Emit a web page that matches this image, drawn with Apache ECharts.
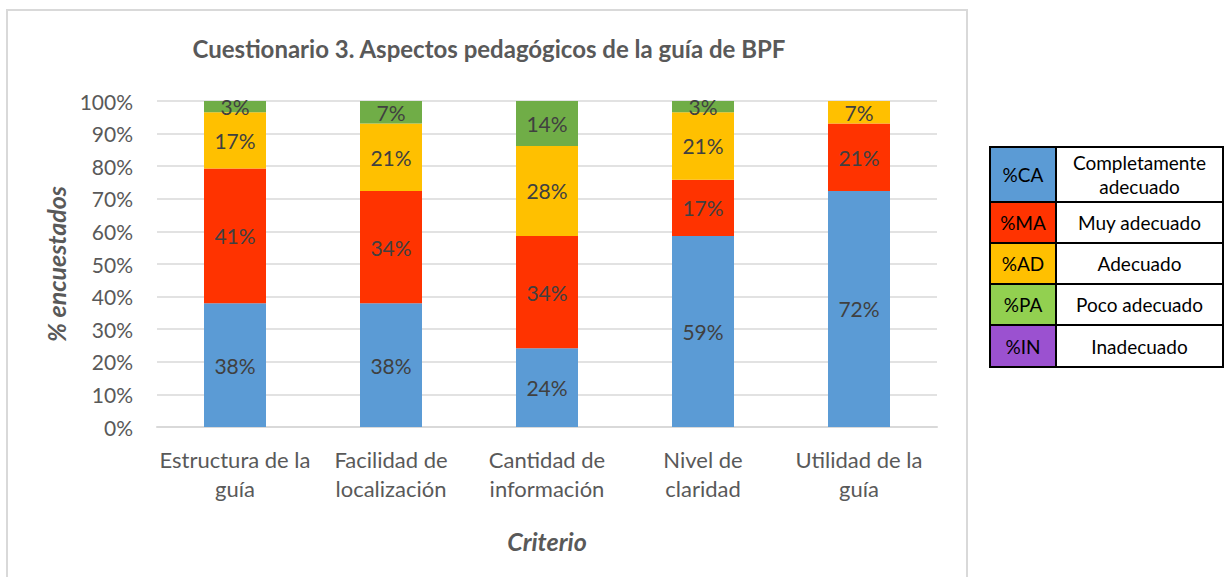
<!DOCTYPE html>
<html><head><meta charset="utf-8">
<script src="https://cdn.jsdelivr.net/npm/echarts@6/dist/echarts.min.js"></script>
<style>html,body{margin:0;padding:0;background:#fff}#c{width:1225px;height:577px}</style>
</head><body><div id="c"></div>
<script>
const categories = ["Estructura de la\nguía", "Facilidad de\nlocalización", "Cantidad de\ninformación", "Nivel de\nclaridad", "Utilidad de la\nguía"];
const seriesCodes = ["%CA", "%MA", "%AD", "%PA", "%IN"];
const seriesNames = ["Completamente\nadecuado", "Muy adecuado", "Adecuado", "Poco adecuado", "Inadecuado"];
const valuesCA = [37.93, 37.93, 24.14, 58.62, 72.41];
const valuesMA = [41.38, 34.48, 34.48, 17.24, 20.69];
const valuesAD = [17.24, 20.69, 27.59, 20.69, 6.90];
const valuesPA = [3.45, 6.90, 13.79, 3.45, 0];
const valuesIN = [0, 0, 0, 0, 0];
const yTicks = [0, 10, 20, 30, 40, 50, 60, 70, 80, 90, 100];

const barColors = ["#5B9BD5", "#FF3300", "#FFC000", "#70AD47", "#9B51D0"];
const legendColors = ["#5B9BD5", "#FF3300", "#FFC000", "#92D050", "#9B51D0"];
const FONT = "Lato, 'Open Sans', sans-serif";
const allValues = [valuesCA, valuesMA, valuesAD, valuesPA, valuesIN];

const chart = echarts.init(document.getElementById('c'), null, {renderer: 'svg'});

const series = allValues.map((vals, i) => ({
  name: seriesCodes[i],
  type: 'bar',
  stack: 'total',
  data: vals,
  barWidth: 62,
  itemStyle: {color: barColors[i]},
  label: {
    show: true, position: 'inside', color: '#404040', fontSize: 21, fontFamily: FONT,
    formatter: p => p.value > 0 ? Math.round(p.value) + '%' : ''
  }
}));

// legend table
const rowTops = [147, 202, 243, 284, 325, 367];
const tableLeft = 990, colSplit = 1056, tableRight = 1223;
const graphics = [
  {type: 'rect', shape: {x: 7, y: 10, width: 960, height: 600}, style: {fill: 'none', stroke: '#D9D9D9', lineWidth: 2}, silent: true}
];
for (let i = 0; i < 5; i++) {
  const y0 = rowTops[i], h = rowTops[i + 1] - rowTops[i];
  graphics.push({type: 'rect', shape: {x: tableLeft, y: y0, width: colSplit - tableLeft, height: h}, style: {fill: legendColors[i], stroke: '#000', lineWidth: 2}});
  graphics.push({type: 'rect', shape: {x: colSplit, y: y0, width: tableRight - colSplit, height: h}, style: {fill: '#fff', stroke: '#000', lineWidth: 2}});
  graphics.push({type: 'text', x: (tableLeft + colSplit) / 2, y: y0 + h / 2, style: {text: seriesCodes[i], fill: '#000', font: '19px ' + FONT, textAlign: 'center', textVerticalAlign: 'middle'}});
  graphics.push({type: 'text', x: (colSplit + tableRight) / 2, y: y0 + h / 2, style: {text: seriesNames[i], fill: '#000', font: '19px ' + FONT, textAlign: 'center', textVerticalAlign: 'middle', lineHeight: 24}});
}

chart.setOption({
  animation: false,
  backgroundColor: '#fff',
  title: {
    text: 'Cuestionario 3. Aspectos pedagógicos de la guía de BPF',
    left: 484, top: 31, textAlign: 'center',
    textStyle: {color: '#595959', fontSize: 24, fontWeight: 'bold', fontFamily: FONT}
  },
  grid: {left: 157, right: 288, top: 101, bottom: 150, containLabel: false},
  xAxis: {
    type: 'category', data: categories,
    name: 'Criterio', nameLocation: 'middle', nameGap: 101,
    nameTextStyle: {color: '#595959', fontSize: 25, fontWeight: 'bold', fontStyle: 'italic', fontFamily: FONT},
    axisLine: {lineStyle: {color: '#D9D9D9', width: 2}},
    axisTick: {show: false},
    axisLabel: {color: '#595959', fontSize: 22, fontFamily: FONT, lineHeight: 29, margin: 18, interval: 0}
  },
  yAxis: {
    type: 'value', min: 0, max: 100, interval: 10,
    name: '% encuestados', nameLocation: 'middle', nameGap: 86,
    nameTextStyle: {color: '#595959', fontSize: 25, fontWeight: 'bold', fontStyle: 'italic', fontFamily: FONT},
    axisLine: {show: false}, axisTick: {show: false},
    splitLine: {lineStyle: {color: '#D9D9D9', width: 1.5}},
    axisLabel: {color: '#595959', fontSize: 21, fontFamily: FONT, margin: 24, formatter: v => yTicks.includes(v) ? v + '%' : ''}
  },
  series: series,
  graphic: graphics
});
</script></body></html>
